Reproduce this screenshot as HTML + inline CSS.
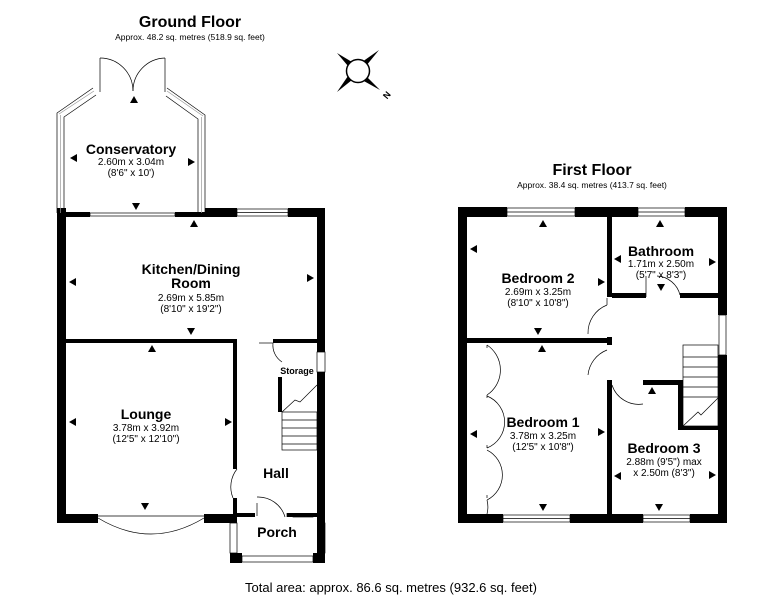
<!DOCTYPE html>
<html><head><meta charset="utf-8"><style>
html,body{margin:0;padding:0;background:#fff;}
svg{display:block;font-family:"Liberation Sans",Arial,sans-serif;}
.b{font-weight:bold;}
</style></head><body>
<svg width="782" height="600" viewBox="0 0 782 600" xmlns="http://www.w3.org/2000/svg">
<rect width="782" height="600" fill="#fff"/>
<!-- titles -->
<text x="190" y="27" font-size="16" class="b" text-anchor="middle">Ground Floor</text>
<text x="190" y="40" font-size="8.5" text-anchor="middle">Approx. 48.2 sq. metres (518.9 sq. feet)</text>
<text x="592" y="175" font-size="16" class="b" text-anchor="middle">First Floor</text>
<text x="592" y="188" font-size="8.5" text-anchor="middle">Approx. 38.4 sq. metres (413.7 sq. feet)</text>
<text x="391" y="592" font-size="13" text-anchor="middle">Total area: approx. 86.6 sq. metres (932.6 sq. feet)</text>
<!-- compass -->
<g fill="#000">
<polygon points="337,53 352,62 348,66"/><polygon points="379,50 366,66 362,62"/>
<polygon points="337,92 348,76 352,80"/><polygon points="380,90 362,80 366,76"/>
</g>
<circle cx="358" cy="71" r="11.5" fill="#fff" stroke="#000" stroke-width="1.5"/>
<text x="384" y="101" font-size="9" class="b" transform="rotate(-50 384 97)">N</text>

<!-- GROUND FLOOR -->
<g fill="#000">
<rect x="57" y="208" width="9" height="315"/>
<rect x="317" y="208" width="8" height="355"/>
<rect x="57" y="212" width="33" height="5"/>
<rect x="175" y="212" width="30" height="5"/>
<rect x="205" y="208" width="32" height="9"/>
<rect x="288" y="208" width="37" height="9"/>
<rect x="66" y="339" width="170" height="4"/>
<rect x="273" y="339" width="44" height="4"/>
<rect x="233" y="339" width="4" height="130"/>
<rect x="233" y="498" width="4" height="16"/>
<rect x="57" y="514" width="41" height="9"/>
<rect x="204" y="514" width="33" height="9"/>
<rect x="233" y="513" width="22" height="4"/>
<rect x="287" y="513" width="30" height="4"/>
<rect x="278" y="377" width="4" height="35"/>
<rect x="230" y="553" width="12" height="10"/>
<rect x="313" y="553" width="12" height="10"/>
</g>
<g fill="none" stroke="#000" stroke-width="0.7">
<rect x="237" y="209" width="51" height="7"/><line x1="237" y1="212.5" x2="288" y2="212.5"/>
<rect x="90" y="213" width="85" height="3"/>
<polyline points="57,213 57,113 93,88"/><polyline points="64,213 64,117 96,95"/>
<polyline points="205,213 205,115 167,88"/><polyline points="198,213 198,119 166,96"/>
<line x1="60.5" y1="213" x2="60.5" y2="115" stroke="#999"/><line x1="201.5" y1="213" x2="201.5" y2="117" stroke="#999"/>
<line x1="59" y1="114" x2="94" y2="91" stroke="#999"/><line x1="203" y1="116" x2="167" y2="91" stroke="#999"/>
<line x1="100" y1="92" x2="100" y2="58"/><line x1="165" y1="92" x2="165" y2="58"/>
<path d="M100,58 A33,33 0 0 1 133,91"/><path d="M165,58 A33,33 0 0 0 133,91"/>
<path d="M98,518 Q151,550 204,518"/><line x1="98" y1="516" x2="204" y2="516"/>
<path d="M273,343 A20,20 0 0 0 282,362"/><line x1="259" y1="343" x2="273" y2="343"/>
<rect x="317" y="352" width="8" height="20" fill="#fff"/>
<rect x="282" y="412" width="35" height="38"/>
<line x1="282" y1="420" x2="317" y2="420"/><line x1="282" y1="428" x2="317" y2="428"/>
<line x1="282" y1="436" x2="317" y2="436"/><line x1="282" y1="444" x2="317" y2="444"/>
<polyline points="282,412 295,400 300,402 317,385"/>
<path d="M237,469 A29,29 0 0 0 233,498"/>
<path d="M257,516 L257,503"/><path d="M257,497 A28,28 0 0 1 285,517"/>
<line x1="287" y1="513" x2="287" y2="517"/>
<rect x="293" y="514" width="20" height="3"/>
<rect x="230" y="523" width="7" height="30"/><rect x="318" y="523" width="7" height="30"/>
<rect x="242" y="556" width="71" height="6"/>
</g>
<g>
<text x="131" y="154" class="b" font-size="14" text-anchor="middle">Conservatory</text>
<text x="131" y="165" font-size="10" text-anchor="middle">2.60m x 3.04m</text>
<text x="131" y="176" font-size="10" text-anchor="middle">(8'6" x 10')</text>
<text x="191" y="274" class="b" font-size="14" text-anchor="middle">Kitchen/Dining</text>
<text x="191" y="288" class="b" font-size="14" text-anchor="middle">Room</text>
<text x="191" y="301" font-size="10" text-anchor="middle">2.69m x 5.85m</text>
<text x="191" y="312" font-size="10" text-anchor="middle">(8'10" x 19'2")</text>
<text x="146" y="419" class="b" font-size="14" text-anchor="middle">Lounge</text>
<text x="146" y="431" font-size="10" text-anchor="middle">3.78m x 3.92m</text>
<text x="146" y="442" font-size="10" text-anchor="middle">(12'5" x 12'10")</text>
<text x="297" y="374" class="b" font-size="9" text-anchor="middle">Storage</text>
<text x="276" y="478" class="b" font-size="14" text-anchor="middle">Hall</text>
<text x="277" y="537" class="b" font-size="14" text-anchor="middle">Porch</text>
</g>

<!-- FIRST FLOOR -->
<g fill="#000">
<rect x="458" y="207" width="9" height="316"/>
<rect x="718" y="207" width="9" height="108"/>
<rect x="718" y="355" width="9" height="168"/>
<rect x="458" y="207" width="49" height="10"/>
<rect x="575" y="207" width="63" height="10"/>
<rect x="685" y="207" width="42" height="10"/>
<rect x="458" y="514" width="45" height="9"/>
<rect x="570" y="514" width="73" height="9"/>
<rect x="690" y="514" width="37" height="9"/>
<rect x="467" y="338" width="143" height="5"/>
<rect x="607" y="217" width="5" height="80"/>
<rect x="607" y="337" width="5" height="8"/>
<rect x="612" y="293" width="34" height="5"/>
<rect x="680" y="293" width="38" height="5"/>
<rect x="607" y="380" width="5" height="135"/>
<rect x="643" y="380" width="40" height="5"/>
<rect x="678" y="380" width="5" height="50"/>
<rect x="678" y="426" width="40" height="4"/>
</g>
<g fill="none" stroke="#000" stroke-width="0.7">
<rect x="507" y="208" width="68" height="8"/><line x1="507" y1="212" x2="575" y2="212"/>
<rect x="638" y="208" width="47" height="8"/><line x1="638" y1="212" x2="685" y2="212"/>
<rect x="503" y="515" width="67" height="7"/><line x1="503" y1="518.5" x2="570" y2="518.5"/>
<rect x="643" y="515" width="47" height="7"/><line x1="643" y1="518.5" x2="690" y2="518.5"/>
<rect x="719" y="315" width="7" height="40"/>
<path d="M607,305 A30,30 0 0 0 588,334"/><line x1="607" y1="298" x2="607" y2="305"/>
<path d="M607,350 A30,30 0 0 0 588,375"/>
<path d="M612,385 A28,28 0 0 0 643,404"/>
<path d="M646,276 L646,297"/><path d="M657,276 A25,25 0 0 1 680,295"/>
<path d="M487,345 A30,30 0 0 1 487,395"/><path d="M487,396 A28,28 0 0 1 487,448"/>
<path d="M487,450 A28,28 0 0 1 487,500"/><path d="M487,500 A28,28 0 0 1 487,514"/>
<line x1="487" y1="345" x2="487" y2="514" stroke-dasharray="3,47"/>
<rect x="683" y="345" width="35" height="81"/>
<line x1="683" y1="357" x2="718" y2="357"/><line x1="683" y1="367" x2="718" y2="367"/>
<line x1="683" y1="377" x2="718" y2="377"/><line x1="683" y1="387" x2="718" y2="387"/>
<line x1="683" y1="397" x2="718" y2="397"/>
<polyline points="683,426 698,412 701,415 718,398"/>
</g>
<g>
<text x="538" y="283" class="b" font-size="14" text-anchor="middle">Bedroom 2</text>
<text x="538" y="295" font-size="10" text-anchor="middle">2.69m x 3.25m</text>
<text x="538" y="306" font-size="10" text-anchor="middle">(8'10" x 10'8")</text>
<text x="661" y="256" class="b" font-size="14" text-anchor="middle">Bathroom</text>
<text x="661" y="267" font-size="10" text-anchor="middle">1.71m x 2.50m</text>
<text x="661" y="278" font-size="10" text-anchor="middle">(5'7" x 8'3")</text>
<text x="543" y="427" class="b" font-size="14" text-anchor="middle">Bedroom 1</text>
<text x="543" y="439" font-size="10" text-anchor="middle">3.78m x 3.25m</text>
<text x="543" y="450" font-size="10" text-anchor="middle">(12'5" x 10'8")</text>
<text x="664" y="453" class="b" font-size="14" text-anchor="middle">Bedroom 3</text>
<text x="664" y="465" font-size="10" text-anchor="middle">2.88m (9'5") max</text>
<text x="664" y="476" font-size="10" text-anchor="middle">x 2.50m (8'3")</text>
</g>
<g fill="#000">
<polygon points="134,96 130,103 138,103"/><polygon points="194,220 190,227 198,227"/>
<polygon points="152,345 148,352 156,352"/><polygon points="543,220 539,227 547,227"/>
<polygon points="660,220 656,227 664,227"/><polygon points="542,345 538,352 546,352"/>
<polygon points="652,387 648,394 656,394"/>
<polygon points="136,210 132,203 140,203"/><polygon points="191,335 187,328 195,328"/>
<polygon points="145,510 141,503 149,503"/><polygon points="538,335 534,328 542,328"/>
<polygon points="661,291 657,284 665,284"/><polygon points="543,511 539,504 547,504"/>
<polygon points="659,511 655,504 663,504"/>
<polygon points="70,158 77,154 77,162"/><polygon points="69,282 76,278 76,286"/>
<polygon points="69,422 76,418 76,426"/><polygon points="470,249 477,245 477,253"/>
<polygon points="614,259 621,255 621,263"/><polygon points="470,434 477,430 477,438"/>
<polygon points="614,476 621,472 621,480"/>
<polygon points="195,162 188,158 188,166"/><polygon points="314,278 307,274 307,282"/>
<polygon points="232,422 225,418 225,426"/><polygon points="605,282 598,278 598,286"/>
<polygon points="716,262 709,258 709,266"/><polygon points="605,432 598,428 598,436"/>
<polygon points="716,475 709,471 709,479"/>
</g>
</svg>
</body></html>
